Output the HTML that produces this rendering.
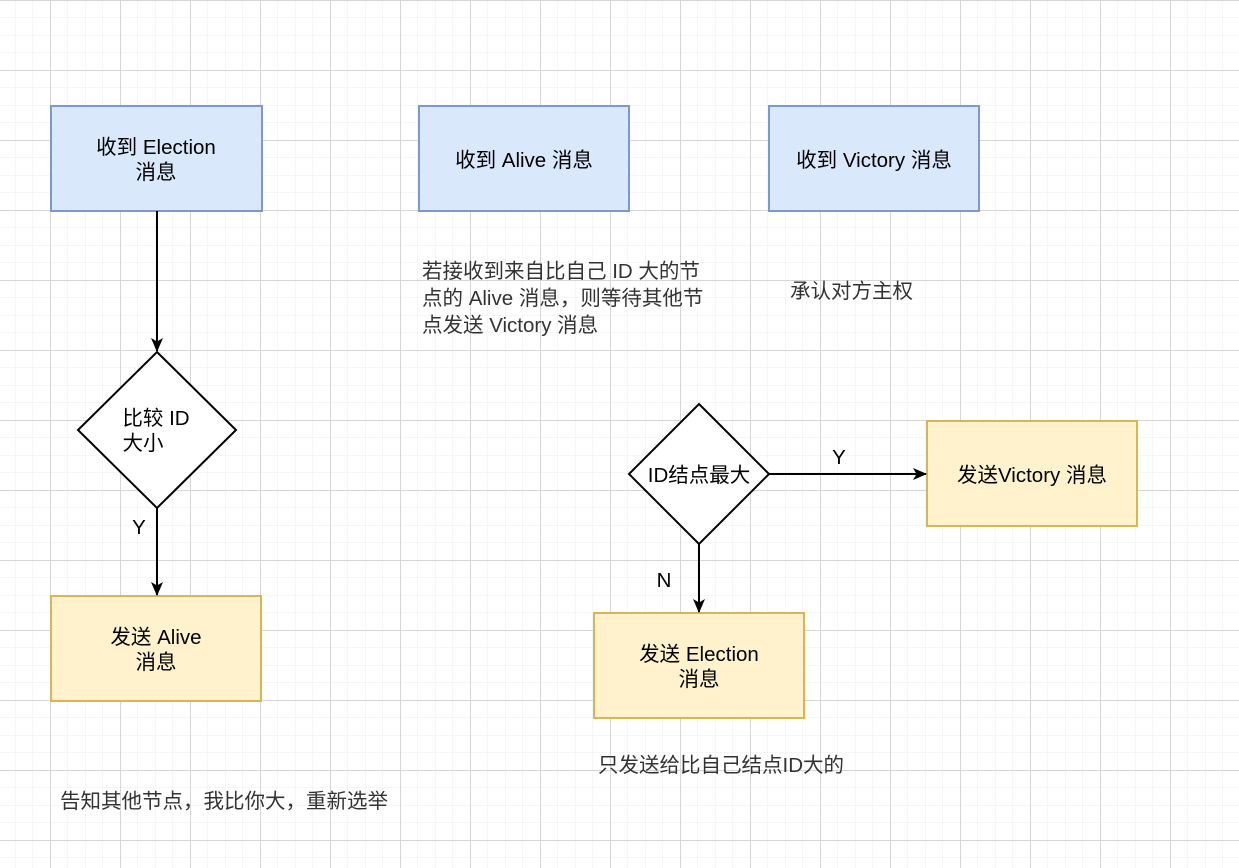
<!DOCTYPE html>
<html><head><meta charset="utf-8"><style>
html,body{margin:0;padding:0;background:#fff;}
svg{display:block;font-family:"Liberation Sans","Noto Sans CJK SC",sans-serif;}
</style></head><body>
<svg width="1239" height="868" xmlns="http://www.w3.org/2000/svg">
<defs>
<pattern id="minor" x="50" y="0" width="17.5" height="17.5" patternUnits="userSpaceOnUse">
<path d="M0 0H17.5M0 0V17.5" stroke="#ececec" stroke-width="1" fill="none"/>
</pattern>
<pattern id="major" x="50" y="0" width="70" height="70" patternUnits="userSpaceOnUse">
<path d="M0 0.5H70M0.5 0V70" stroke="#d6d6d6" stroke-width="1" fill="none"/>
</pattern>
<marker id="ar" markerWidth="14" markerHeight="12" refX="13" refY="6" orient="auto" markerUnits="userSpaceOnUse">
<path d="M0 0L14 6L0 12L3.5 6Z" fill="#000"/>
</marker>
</defs>
<rect width="1239" height="868" fill="url(#minor)"/>
<rect width="1239" height="868" fill="url(#major)"/>
<g stroke-width="2">
<rect x="51" y="106" width="211" height="105" fill="#dae8fc" stroke="#7b9acb"/>
<rect x="419" y="106" width="210" height="105" fill="#dae8fc" stroke="#7b9acb"/>
<rect x="769" y="106" width="210" height="105" fill="#dae8fc" stroke="#7b9acb"/>
<rect x="51" y="596" width="210" height="105" fill="#fff2cc" stroke="#d6b656"/>
<rect x="927" y="421" width="210" height="105" fill="#fff2cc" stroke="#d6b656"/>
<rect x="594" y="613" width="210" height="105" fill="#fff2cc" stroke="#d6b656"/>
<path d="M157 352L236 430L157 508L78 430Z" fill="#fff" stroke="#000"/>
<path d="M699 404L769 474L699 544L629 474Z" fill="#fff" stroke="#000"/>
<path d="M157 211V351" stroke="#000" marker-end="url(#ar)"/>
<path d="M157 508V595" stroke="#000" marker-end="url(#ar)"/>
<path d="M769 474H926" stroke="#000" marker-end="url(#ar)"/>
<path d="M699 544V612" stroke="#000" marker-end="url(#ar)"/>
</g>
<g font-size="20.5" fill="#000" text-anchor="middle">
<text x="156" y="154">收到 Election</text>
<text x="156" y="179">消息</text>
<text x="524" y="167">收到 Alive 消息</text>
<text x="874" y="167">收到 Victory 消息</text>
<text x="156" y="425">比较 ID</text>
<text x="143" y="450">大小</text>
<text x="699" y="482">ID结点最大</text>
<text x="156" y="644">发送 Alive</text>
<text x="156" y="669">消息</text>
<text x="1032" y="482">发送Victory 消息</text>
<text x="699" y="661">发送 Election</text>
<text x="699" y="686">消息</text>
<text x="139" y="534">Y</text>
<text x="839" y="464">Y</text>
<text x="664" y="587">N</text>
</g>
<g font-size="20.5" fill="#333">
<text x="422" y="278">若接收到来自比自己 ID 大的节</text>
<text x="422" y="305">点的 Alive 消息，则等待其他节</text>
<text x="422" y="332">点发送 Victory 消息</text>
<text x="790" y="298">承认对方主权</text>
<text x="598" y="772">只发送给比自己结点ID大的</text>
<text x="60" y="808">告知其他节点，我比你大，重新选举</text>
</g>
</svg>
</body></html>
